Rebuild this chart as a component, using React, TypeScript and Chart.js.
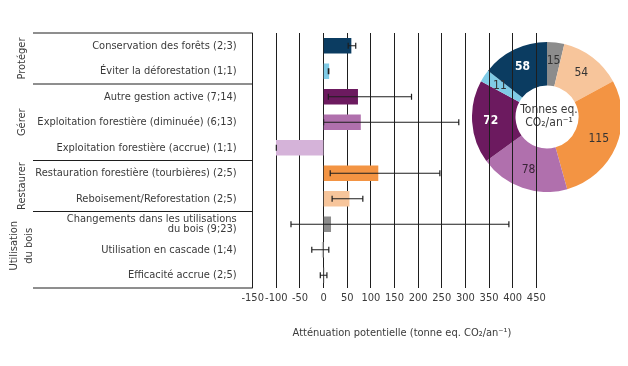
import React, { useEffect, useRef } from 'react';
import { Chart, registerables } from 'chart.js';
Chart.register(...registerables);

const FONT = "'Liberation Sans Narrow', 'DejaVu Sans Condensed', 'Arial Narrow', sans-serif";
const TEXT = '#3a3a3a';
const LINE = '#1e1e1e';

const categories: (string | string[])[] = [
  'Conservation des forêts (2;3)',
  'Éviter la déforestation (1;1)',
  'Autre gestion active (7;14)',
  'Exploitation forestière (diminuée) (6;13)',
  'Exploitation forestière (accrue) (1;1)',
  'Restauration forestière (tourbières) (2;5)',
  'Reboisement/Reforestation (2;5)',
  ['Changements dans les utilisations', 'du bois (9;23)'],
  'Utilisation en cascade (1;4)',
  'Efficacité accrue (2;5)',
];
const values = [58, 11, 72, 78, -100, 115, 54, 15, -3, 2];
const errLow = [52, 10, 10, 0, -100, 14, 18, -69, -25, -7];
const errHigh = [68, 11, 186, 286, -100, 246, 83, 392, 11, 7];
const barColors = ['#0b3c61', '#80cbe6', '#6c1a5f', '#b070ad', '#d5b3d9', '#f39443', '#f7c59b', '#8c8c8c', '#c4c4c4', '#dedede'];

const groupLabels: string[][] = [['Protéger'], ['Gérer'], ['Restaurer'], ['Utilisation', 'du bois']];
const groupFirst = [0, 2, 5, 7];
const groupLast = [1, 4, 6, 9];

const xMin = -150;
const xMax = 450;
const xStep = 50;
const xTitle = 'Atténuation potentielle (tonne eq. CO₂/an⁻¹)';

const donutNames = ['Utilisation du bois', 'Reboisement', 'Restauration', 'Exploitation (diminuée)', 'Autre gestion active', 'Éviter la déforestation', 'Conservation'];
const donutValues = [15, 54, 115, 78, 72, 11, 58];
const donutColors = ['#8c8c8c', '#f7c59b', '#f39443', '#b070ad', '#6c1a5f', '#80cbe6', '#0b3c61'];
const donutTextColors = ['#333333', '#333333', '#333333', '#3a2438', '#ffffff', '#333333', '#ffffff'];
const donutCenter = ['Tonnes eq.', 'CO₂/an⁻¹'];

export default function App() {
  const barRef = useRef<HTMLCanvasElement>(null);
  const donutRef = useRef<HTMLCanvasElement>(null);

  useEffect(() => {
    const errorPlugin = {
      id: 'errbars',
      afterDatasetsDraw(chart: any) {
        const { ctx, scales } = chart;
        const xs = scales.x, ys = scales.y;
        ctx.save();
        ctx.strokeStyle = LINE;
        ctx.lineWidth = 1.2;
        for (let i = 0; i < values.length; i++) {
          const y = ys.getPixelForValue(i);
          const x1 = xs.getPixelForValue(errLow[i]);
          const x2 = xs.getPixelForValue(errHigh[i]);
          ctx.beginPath();
          ctx.moveTo(x1, y); ctx.lineTo(x2, y);
          ctx.moveTo(x1, y - 3); ctx.lineTo(x1, y + 3);
          ctx.moveTo(x2, y - 3); ctx.lineTo(x2, y + 3);
          ctx.stroke();
        }
        ctx.restore();
      },
    };
    const boxPlugin = {
      id: 'box',
      afterDraw(chart: any) {
        const { ctx, chartArea, scales } = chart;
        const ys = scales.y;
        const left = 25;
        const right = chartArea.left;
        ctx.save();
        ctx.strokeStyle = LINE;
        ctx.lineWidth = 1;
        const ysep: number[] = [chartArea.top, chartArea.bottom];
        for (let g = 0; g < groupFirst.length - 1; g++) {
          ysep.push((ys.getPixelForValue(groupLast[g]) + ys.getPixelForValue(groupFirst[g + 1])) / 2);
        }
        ctx.beginPath();
        ysep.forEach((y) => { ctx.moveTo(left, y); ctx.lineTo(right, y); });
        ctx.stroke();
        // group labels
        ctx.fillStyle = TEXT;
        ctx.font = `11px ${FONT}`;
        ctx.textAlign = 'center';
        ctx.textBaseline = 'middle';
        for (let g = 0; g < groupLabels.length; g++) {
          const top = g === 0 ? chartArea.top : (ys.getPixelForValue(groupLast[g - 1]) + ys.getPixelForValue(groupFirst[g])) / 2;
          const bot = g === groupLabels.length - 1 ? chartArea.bottom : (ys.getPixelForValue(groupLast[g]) + ys.getPixelForValue(groupFirst[g + 1])) / 2;
          const lines = groupLabels[g];
          const cy = (top + bot) / 2 - (lines.length > 1 ? 4 : 0);
          ctx.save();
          ctx.translate(13.7, cy);
          ctx.rotate(-Math.PI / 2);
          lines.forEach((l, k) => {
            ctx.fillText(l, 0, (k - (lines.length - 1) / 2) * 14.3);
          });
          ctx.restore();
        }
        // axis title
        ctx.font = `11px ${FONT}`;
        ctx.fillText(xTitle, (chartArea.left + chartArea.right) / 2 + 7.5, 325.3);
        ctx.restore();
      },
    };

    const bar = new Chart(barRef.current!, {
      type: 'bar',
      data: {
        labels: categories as any,
        datasets: [{ data: values, backgroundColor: barColors, borderWidth: 0, barThickness: 15 }],
      },
      options: {
        indexAxis: 'y',
        animation: false,
        responsive: false,
        layout: { padding: { top: 25, right: 83.7, left: 0, bottom: 0 } },
        plugins: { legend: { display: false }, tooltip: { enabled: false } },
        scales: {
          x: {
            min: xMin, max: xMax,
            afterFit(scale: any) { scale.height = 70; },
            ticks: { stepSize: xStep, color: TEXT, font: { family: FONT, size: 11 }, padding: 4, maxRotation: 0, autoSkip: false },
            grid: { color: LINE, lineWidth: 1, drawTicks: false },
            border: { display: false },
          },
          y: {
            afterFit(scale: any) { scale.width = 244.7; },
            ticks: { color: TEXT, font: { family: FONT, size: 11, lineHeight: 0.98 }, padding: 16, autoSkip: false },
            grid: { display: false, drawTicks: false },
            border: { display: false },
          },
        },
      } as any,
      plugins: [errorPlugin, boxPlugin],
    });

    const donutLabelPlugin = {
      id: 'dlabels',
      afterDatasetsDraw(chart: any) {
        const { ctx } = chart;
        const meta = chart.getDatasetMeta(0);
        ctx.save();
        ctx.textAlign = 'center';
        ctx.textBaseline = 'middle';
        meta.data.forEach((arc: any, i: number) => {
          const p = arc.getProps(['x', 'y', 'startAngle', 'endAngle', 'innerRadius', 'outerRadius'], true);
          const mid = (p.startAngle + p.endAngle) / 2;
          const r = (p.innerRadius + p.outerRadius) / 2 + 3;
          const white = donutTextColors[i] === '#ffffff';
          ctx.font = `${white ? 'bold ' : ''}12px ${FONT}`;
          ctx.fillStyle = donutTextColors[i];
          ctx.fillText(String(donutValues[i]), p.x + Math.cos(mid) * r, p.y + Math.sin(mid) * r);
        });
        const a0 = meta.data[0];
        ctx.font = `12px ${FONT}`;
        ctx.fillStyle = TEXT;
        ctx.fillText(donutCenter[0], a0.x + 2, a0.y - 7.5);
        ctx.fillText(donutCenter[1], a0.x + 2, a0.y + 5.5);
        ctx.restore();
      },
    };

    const donut = new Chart(donutRef.current!, {
      type: 'doughnut',
      data: {
        labels: donutNames,
        datasets: [{ data: donutValues, backgroundColor: donutColors, borderWidth: 0 }],
      },
      options: {
        animation: false,
        responsive: false,
        cutout: '42%',
        layout: { padding: 0 },
        plugins: { legend: { display: false }, tooltip: { enabled: false } },
      } as any,
      plugins: [donutLabelPlugin],
    });

    return () => { bar.destroy(); donut.destroy(); };
  }, []);

  return (
    <div style={{ position: 'relative', width: 612, height: 350 }}>
      <canvas ref={donutRef} width={150} height={150} style={{ position: 'absolute', left: 464, top: 34, width: 150, height: 150 }} />
      <canvas ref={barRef} width={612} height={350} style={{ position: 'absolute', left: 0, top: 0, width: 612, height: 350 }} />
    </div>
  );
}
